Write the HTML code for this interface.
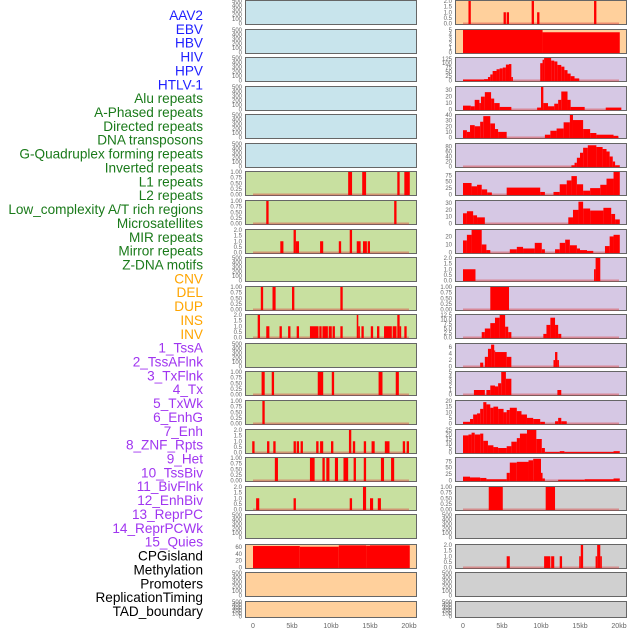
<!DOCTYPE html>
<html><head><meta charset="utf-8"><style>
body{margin:0;background:#fff;width:630px;height:630px;overflow:hidden}
svg{display:block;font-family:"Liberation Sans",sans-serif}
</style></head><body>
<svg id="c" width="630" height="630" viewBox="0 0 630 630"></svg>
<script>
// ---- data (segments: [startKb, endKb, value]) ----
const alu=[[12.2,12.7,1],[14.0,14.5,1],[18.5,18.8,1],[19.4,20.1,1]];
const aphased=[[1.7,2.0,1],[18.1,18.4,1]];
const directed=[[3.5,3.9,1],[5.2,5.5,2],[5.5,5.9,1],[8.6,9.0,1],[11.0,11.3,1],[12.4,12.7,2],[13.3,13.8,1],[14.1,14.6,1],[14.7,15.0,1]];
const gquad=[[1.0,1.3,1],[2.5,2.9,1],[5.0,5.3,1],[11.2,11.5,1]];
const inverted=[[0.6,0.9,2],[1.7,2.1,1],[3.4,3.7,1],[4.5,4.8,1],[5.6,5.9,1],[7.3,8.4,1],[8.5,8.8,1],[8.9,9.6,1],[9.7,10.1,1],[10.2,10.5,1],[11.2,11.5,1],[13.3,13.5,2],[13.5,13.7,1],[13.9,14.2,1],[15.1,15.4,1],[15.9,16.2,1],[16.8,17.8,1],[17.9,18.4,1],[18.5,18.8,2],[18.8,19.0,1],[19.4,19.7,1]];
const l2rep=[[1.1,1.5,1],[2.4,2.7,1],[8.3,9.0,1],[10.1,10.4,1],[16.1,16.6,1],[18.3,18.7,1]];
const lowc=[[1.2,1.5,1]];
const micro=[[-0.1,0.2,1],[1.8,2.1,1],[2.6,2.9,1],[5.2,5.5,1],[5.6,5.9,1],[6.1,6.4,1],[8.1,8.4,1],[8.6,9.0,1],[10.0,10.3,1],[12.3,12.6,2],[12.8,13.1,1],[14.2,14.5,1],[15.2,15.6,1],[16.9,17.5,1],[19.2,19.5,1],[19.7,20.0,1]];
const mir=[[2.8,3.2,1],[7.3,7.9,1],[8.9,9.2,1],[9.4,9.8,1],[10.5,10.9,1],[11.6,12.2,1],[12.9,13.2,1],[14.2,14.5,1],[16.4,16.8,1],[17.7,18.1,1]];
const mirror=[[0.4,0.8,1],[5.2,5.5,1],[12.4,12.7,1],[14.1,14.5,2],[15.0,15.4,1],[16.0,16.4,1]];
const cnv=[[0,6,63],[6,11,61],[11,14.5,65],[14.5,15,64],[15,20.1,65]];
const ins=[[0.7,1.0,2],[5.2,5.5,1],[5.6,5.9,1],[8.8,9.1,2],[9.5,9.8,1],[16.8,17.1,2]];
const inv=[[0,10.2,5],[10.2,20.1,4.5]];
const tssa=[[0,2.7,6],[2.7,3.2,8],[3.2,3.5,20],[3.5,3.8,35],[3.8,4.3,55],[4.3,4.7,65],[4.7,5.1,70],[5.1,5.5,75],[5.5,5.9,92],[5.9,6.2,95],[6.2,6.4,20],[9.9,10.2,100],[10.2,10.4,120],[10.4,11.3,130],[11.3,11.7,115],[11.7,12.1,110],[12.1,12.6,90],[12.6,13.0,80],[13.0,13.4,60],[13.4,13.8,40],[13.8,14.3,25],[14.3,14.9,12]];
const tssaf=[[0,1,6],[1,1.5,5],[1.5,2.1,15],[2.1,2.3,10],[2.3,2.8,20],[2.8,3.6,27],[3.6,4.0,17],[4.0,4.7,10],[4.7,6.2,4],[9.5,10.0,3],[10.0,10.3,38],[10.3,10.9,10],[10.9,11.7,5],[11.7,12.2,9],[12.2,12.6,15],[12.6,13.4,28],[13.4,13.8,15],[13.8,15.6,4],[18.3,20.3,3]];
const txf=[[0,0.5,13],[0.5,0.9,10],[0.9,1.5,22],[1.5,2.2,20],[2.2,2.6,28],[2.6,3.5,38],[3.5,4.1,25],[4.1,4.5,15],[4.5,5.6,10],[10.5,11.2,5],[11.2,12.0,12],[12.0,12.9,16],[12.9,13.7,27],[13.7,14.1,40],[14.1,15.4,31],[15.4,16.3,15],[16.3,17.1,8],[17.1,19.3,5],[19.3,19.9,3]];
const tx=[[13.9,14.3,5],[14.3,14.6,15],[14.6,15.0,35],[15.0,15.4,55],[15.4,16.0,75],[16.0,17.1,85],[17.1,17.9,78],[17.9,18.4,70],[18.4,18.8,60],[18.8,19.2,40],[19.2,19.5,20],[19.5,20.1,5]];
const txwk=[[0,1.1,45],[1.1,1.8,32],[1.8,2.4,38],[2.4,3.1,20],[3.1,3.7,8],[5.6,9.9,27],[9.9,10.5,10],[11.6,12.4,10],[12.4,13.3,40],[13.3,13.9,55],[13.9,14.6,72],[14.6,15.4,40],[15.4,16.3,15],[16.3,17.6,25],[17.6,18.4,38],[18.4,19.3,62],[19.3,20.1,90]];
const enhg=[[0,0.5,15],[0.5,1.3,18],[1.3,1.8,12],[1.8,2.8,9],[13.5,14.1,9],[14.1,14.8,20],[14.8,15.4,32],[15.4,16.3,22],[16.3,18.0,19],[18.0,19.0,23],[19.0,19.5,14],[19.5,20.1,6]];
const enh=[[0,0.5,15],[0.5,1.1,22],[1.1,2.4,28],[2.4,3.0,10],[3.0,3.5,3],[6.0,6.9,4],[6.9,7.7,7],[7.7,9.2,5],[9.2,10.1,12],[10.1,10.5,4],[11.8,12.4,4],[12.4,13.1,12],[13.1,13.7,16],[13.7,14.6,9],[14.6,15.0,5],[15.0,15.9,3],[15.9,16.7,2],[18.2,18.8,8],[18.8,19.3,20],[19.3,20.1,22]];
const znf=[[0,1.6,1],[16.8,17.0,1],[17.0,17.6,2]];
const het=[[3.5,5.9,1]];
const tssbiv=[[2.4,2.8,3],[2.8,3.5,5],[3.5,4.1,8],[4.1,4.7,11],[4.7,5.4,12.5],[5.4,5.8,6],[5.8,6.2,3],[10.3,10.7,2],[10.7,11.2,7],[11.2,11.8,11],[11.8,12.2,7],[12.2,12.6,2]];
const bivf=[[2.2,2.6,1.2],[2.8,3.2,3],[3.2,3.6,5.5],[3.6,4.0,6.8],[4.0,4.1,5],[4.1,5.6,4.5],[5.6,6.2,3],[11.6,11.8,2],[11.8,12.1,4.5],[12.1,12.3,2]];
const enhbiv=[[1.4,2.8,1],[3.0,3.5,1],[3.5,4.1,2],[4.1,4.5,1.8],[4.5,4.9,2.5],[4.9,5.5,5],[5.5,6.2,3.5],[12.1,12.6,1]];
const reprpc=[[0,0.9,1.5],[0.9,1.3,4],[1.3,1.8,8],[1.8,2.2,9],[2.2,2.6,13],[2.6,3.0,19],[3.0,3.5,17],[3.5,3.9,14],[3.9,4.5,15],[4.5,5.2,13],[5.2,5.6,10],[5.6,6.0,12],[6.0,6.9,14],[6.9,7.5,11],[7.5,8.2,8],[8.2,9.0,5],[9.0,9.9,4],[9.9,10.5,1.5],[11.8,12.2,2],[12.2,12.6,5],[12.6,13.3,2]];
const reprpcwk=[[0,0.7,19],[0.7,1.1,20],[1.1,1.5,22],[1.5,2.2,20],[2.2,2.6,21],[2.6,3.2,13],[3.2,3.9,8],[3.9,4.5,6],[4.5,5.6,5],[5.6,6.2,7],[6.2,6.9,12],[6.9,7.3,16],[7.3,8.2,21],[8.2,9.4,25],[9.4,10.1,15],[10.1,10.5,5],[10.5,12.4,0.5],[12.4,13.0,1.5],[13.0,19.3,0.5],[19.3,20.1,1.5]];
const quies=[[0,0.9,15],[0.9,2.2,12],[2.2,3.0,10],[3.0,5.6,5],[5.6,6.0,30],[6.0,6.9,70],[6.9,8.4,73],[8.4,9.0,79],[9.0,10.0,85],[10.0,10.2,30],[10.2,10.5,8],[12.2,15.6,3],[15.6,19.3,5],[19.3,20.1,8]];
const cpg=[[3.3,5.1,1],[10.6,11.8,1]];
const prom=[[5.6,6.0,1],[10.4,11.2,1],[11.3,11.7,1],[12.4,12.7,1],[14.9,15.1,1],[15.1,15.4,2],[17.0,17.2,1],[17.2,17.6,2],[17.6,17.8,1]];

const tEmpty=["0","100","200","300","400","500"];
const t1=["0.00","0.25","0.50","0.75","1.00"];
const t2=["0.0","0.5","1.0","1.5","2.0"];
const xTicks=["0","5kb","10kb","15kb","20kb"];
const xTickKb=[0,5,10,15,20];

const labels=[["AAV2","#1f1fff"],["EBV","#1f1fff"],["HBV","#1f1fff"],["HIV","#1f1fff"],["HPV","#1f1fff"],["HTLV-1","#1f1fff"],
["Alu repeats","#1a7a1a"],["A-Phased repeats","#1a7a1a"],["Directed repeats","#1a7a1a"],["DNA transposons","#1a7a1a"],["G-Quadruplex forming repeats","#1a7a1a"],["Inverted repeats","#1a7a1a"],["L1 repeats","#1a7a1a"],["L2 repeats","#1a7a1a"],["Low_complexity A/T rich regions","#1a7a1a"],["Microsatellites","#1a7a1a"],["MIR repeats","#1a7a1a"],["Mirror repeats","#1a7a1a"],["Z-DNA motifs","#1a7a1a"],
["CNV","#ffa500"],["DEL","#ffa500"],["DUP","#ffa500"],["INS","#ffa500"],["INV","#ffa500"],
["1_TssA","#a035f0"],["2_TssAFlnk","#a035f0"],["3_TxFlnk","#a035f0"],["4_Tx","#a035f0"],["5_TxWk","#a035f0"],["6_EnhG","#a035f0"],["7_Enh","#a035f0"],["8_ZNF_Rpts","#a035f0"],["9_Het","#a035f0"],["10_TssBiv","#a035f0"],["11_BivFlnk","#a035f0"],["12_EnhBiv","#a035f0"],["13_ReprPC","#a035f0"],["14_ReprPCWk","#a035f0"],["15_Quies","#a035f0"],
["CPGisland","#000"],["Methylation","#000"],["Promoters","#000"],["ReplicationTiming","#000"],["TAD_boundary","#000"]];

const B="#c8e4ec",G="#c8e0a0",O="#ffd09c",P="#d6c8e4",Y="#d0d0d0";
// panels: [bg, data, ymax, ticks, tickMax]
const panels=[
[B,null],[B,null],[B,null],[B,null],[B,null],[B,null],
[G,alu,1,t1,1],[G,aphased,1,t1,1],[G,directed,2,t2,2],[G,null],[G,gquad,1,t1,1],[G,inverted,2,t2,2],[G,null],[G,l2rep,1,t1,1],[G,lowc,1,t1,1],[G,micro,2,t2,2],[G,mir,1,t1,1],[G,mirror,2,t2,2],[G,null],
[O,cnv,66,["0","20","40","60"],60],[O,null],[O,null],
[O,ins,2,t2,2],[O,inv,5,["0","1","2","3","4","5"],5],
[P,tssa,130,["0","25","50","75","100","125"],125],[P,tssaf,35,["0","10","20","30"],30],[P,txf,40,["0","10","20","30","40"],40],[P,tx,90,["0","20","40","60","80"],80],[P,txwk,88,["0","25","50","75"],75],[P,enhg,33,["0","10","20","30"],30],[P,enh,28,["0","10","20"],20],[P,znf,2,t2,2],[P,het,1,t1,1],[P,tssbiv,12.5,["0.0","2.5","5.0","7.5","10.0","12.5"],12.5],[P,bivf,7,["0","2","4","6"],6],[P,enhbiv,5,["0","1","2","3","4","5"],5],[P,reprpc,20,["0","5","10","15","20"],20],[P,reprpcwk,25,["0","5","10","15","20","25"],25],[P,quies,88,["0","25","50","75"],75],
[Y,cpg,1,t1,1],[Y,null],[Y,prom,2,t2,2],[Y,null],[Y,null]];

const NS="http://www.w3.org/2000/svg";
const svg=document.getElementById('c');
function mk(tag,attrs,parent){const e=document.createElementNS(NS,tag);for(const k in attrs)e.setAttribute(k,attrs[k]);(parent||svg).appendChild(e);return e;}

labels.forEach((l,i)=>{
  const t=mk('text',{x:203,y:20+i*13.86,'text-anchor':'end','font-size':'13.6',fill:l[1]});
  t.textContent=l[0];
  
  
});

panels.forEach((p,i)=>{
  const col=i<22?0:1, r=i%22;
  const top=Math.round(r*28.57)+(r>=19?1:0);
  const h=r===21?17:25;
  const px=col?455:245, x0=col?463:253;
  const xs=kb=>x0+kb*7.8;
  const g=mk('g',{});
  
  
  const bg=mk('rect',{x:px+0.5,y:top+0.5,width:171,height:h-1,fill:p[0],stroke:'#666','stroke-width':1},g);
  
  
  const yb=top+h-1.5, yt=top+1;
  let ymax, ticks, tmax;
  if(!p[1]){ticks=tEmpty;tmax=500;ymax=500;}else{ticks=p[3];tmax=p[4];ymax=p[2];}
  const ys=v=>yb-Math.min(v,ymax)/ymax*(yb-yt);
  ticks.forEach((tl,k)=>{
    const v=tmax*k/(ticks.length-1);
    const t=mk('text',{x:px-3,y:ys(v)+2,'text-anchor':'end','font-size':'6',fill:'#666'},g);
    t.textContent=tl;
    
    
  });
  if(p[1]){
    const bl=mk('rect',{x:xs(0),y:yb-1,width:xs(20)-xs(0),height:2,fill:'rgba(220,60,60,0.45)'},g);
    
    
    p[1].forEach(s=>{
      const b=mk('rect',{x:xs(s[0]),y:ys(s[2]),width:Math.max(1,xs(s[1])-xs(s[0])),height:yb-ys(s[2])+0.5,fill:'#ff0000'},g);
      
      
    });
  }
});

[0,1].forEach(col=>{
  const x0=col?463:253;
  xTicks.forEach((tl,k)=>{
    const t=mk('text',{x:x0+xTickKb[k]*7.8,y:628,'text-anchor':'middle','font-size':'7',fill:'#666'});
    t.textContent=tl;
    
    
  });
});
</script>
</body></html>
